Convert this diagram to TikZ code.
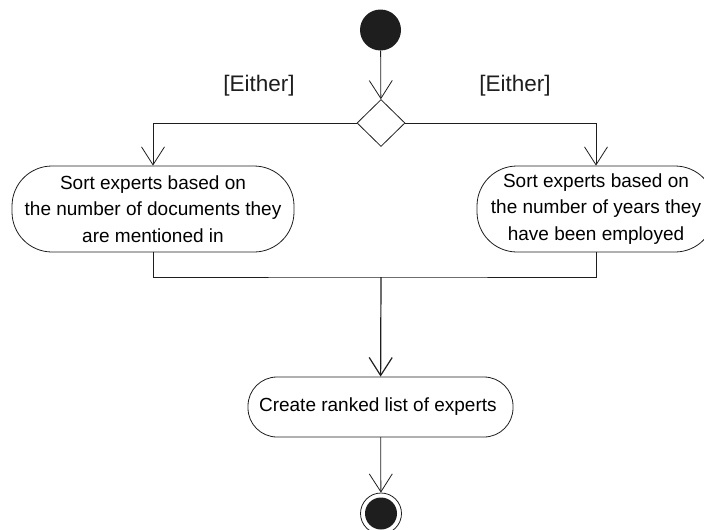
\documentclass[tikz,border=0pt]{standalone}
\usepackage{fontspec}
\setmainfont{Liberation Sans}
\usetikzlibrary{positioning, arrows.meta, shapes.geometric}
\definecolor{ink}{HTML}{1E1E1E}
\tikzstyle{act} = [rectangle, draw=ink, rounded corners=40pt, align=center, inner sep=0pt, line width=0.8pt, font=\fontsize{19}{26.5}\selectfont]
\tikzstyle{flow} = [draw=ink, line width=0.8pt, -{Straight Barb[length=18pt, width=23pt]}]
\tikzstyle{guard} = [font=\fontsize{22.5}{26}\selectfont, text=ink]

\begin{document}
\begin{tikzpicture}[x=1pt, y=1pt, line join=miter]
    \useasboundingbox (0,0) rectangle (704,-530);

    \node[circle, fill=ink, minimum size=41pt, inner sep=0pt] (start) at (380.5,-30) {};
    \node[diamond, draw=ink, line width=0.8pt, minimum width=48pt, minimum height=47pt, inner sep=0pt] (choice) at (381,-123) {};

    \node[guard] (either1) at (259,-86) {[Either]};
    \node[guard] (either2) at (515,-86) {[Either]};

    \node[act, minimum width=282pt, minimum height=86pt] (docs) at (153,-209) {
        Sort experts based on \\ the number of documents they \\ are mentioned in
    };
    \node[act, minimum width=238pt, minimum height=86pt] (years) at (596,-209) {
        Sort experts based on \\ the number of years they \\ have been employed
    };
    \coordinate (join) at (381,-277);
    \node[act, rounded corners=29pt, minimum width=265pt, minimum height=60pt] (rank) at (380.5,-407) {
        Create ranked list of experts
    };
    \node[circle, draw=ink, line width=0.8pt, minimum size=41pt, inner sep=0pt,
          path picture={\fill[ink] (path picture bounding box.center) circle (16pt);}] (stop) at (381,-513.5) {};

    % Define the flows
    \draw[flow] (start) -- (choice);
    \draw[flow] (choice.west) -| (docs);
    \draw[flow] (choice.east) -| (years);
    \draw[draw=ink, line width=0.8pt] (docs.south) |- (join) -| (years.south);
    \draw[flow, line width=1.2pt] (join) -- (rank);
    \draw[flow] (rank) -- (stop);

\end{tikzpicture}
\end{document}
